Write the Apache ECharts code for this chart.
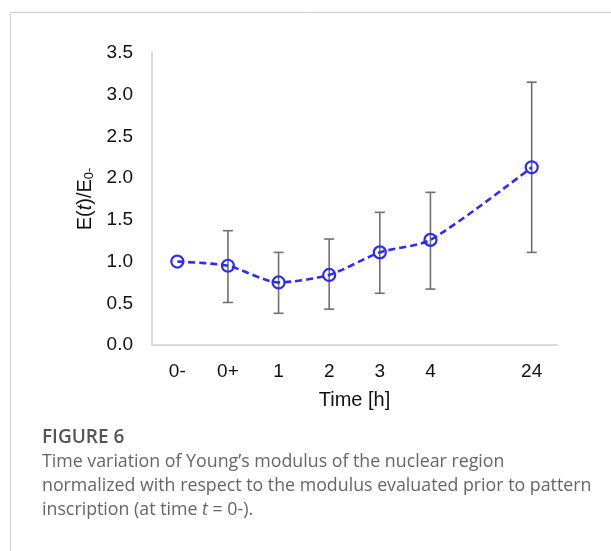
<!DOCTYPE html>
<html>
<head>
<meta charset="utf-8">
<script src="https://cdn.jsdelivr.net/npm/echarts@6/dist/echarts.min.js"></script>
<style>
  html, body { margin: 0; padding: 0; background: #fff; }
  #chart { width: 611px; height: 551px; }
</style>
</head>
<body>
<div id="chart"></div>
<script>
// categories (the empty one keeps the gap before 24 h)
let timeLabels = ['0-', '0+', '1', '2', '3', '4', '', '24'];
// mean E(t)/E0-
let meanValues = [1.0, 0.95, 0.75, 0.84, 1.11, 1.26, null, 2.13];
// error bar ends
let lowValues = [null, 0.51, 0.38, 0.43, 0.62, 0.67, null, 1.11];
let highValues = [null, 1.37, 1.11, 1.27, 1.59, 1.83, null, 3.15];
let yTicks = [0, 0.5, 1, 1.5, 2, 2.5, 3, 3.5];

let errData = [];
for (let i = 0; i < timeLabels.length; i++) {
  if (lowValues[i] != null) {
    errData.push([i, lowValues[i], highValues[i]]);
  }
}

let chart = echarts.init(document.getElementById('chart'));

let capFont = '17.8px "Open Sans"';

let option = {
  backgroundColor: '#fff',
  animation: false,
  grid: { left: 152, top: 53, right: 54, bottom: 206 },
  xAxis: {
    type: 'category',
    data: timeLabels,
    boundaryGap: true,
    axisLine: { lineStyle: { color: '#d9d9d9', width: 2 } },
    axisTick: { show: false },
    axisLabel: { color: '#111', fontSize: 19, fontFamily: 'Liberation Sans', margin: 17, interval: 0 },
    name: 'Time [h]',
    nameLocation: 'middle',
    nameGap: 45,
    nameTextStyle: { color: '#111', fontSize: 20, fontFamily: 'Liberation Sans' }
  },
  yAxis: {
    type: 'value',
    min: yTicks[0],
    max: yTicks[yTicks.length - 1],
    interval: 0.5,
    splitLine: { show: false },
    axisLine: { show: true, lineStyle: { color: '#d9d9d9', width: 2 } },
    axisTick: { show: false },
    axisLabel: {
      color: '#111', fontSize: 19, fontFamily: 'Liberation Sans', margin: 19,
      formatter: function (v) { return v.toFixed(1); }
    },
    name: '{a|E(}{i|t}{a|)/E}{s|0-}',
    nameLocation: 'middle',
    nameRotate: 90,
    nameGap: 52,
    nameTextStyle: {
      rich: {
        a: { fontSize: 20, fontFamily: 'Liberation Sans', color: '#111', verticalAlign: 'bottom', lineHeight: 23 },
        i: { fontSize: 20, fontFamily: 'Liberation Sans', fontStyle: 'italic', color: '#111', verticalAlign: 'bottom', lineHeight: 23 },
        s: { fontSize: 13, fontFamily: 'Liberation Sans', color: '#111', verticalAlign: 'bottom', lineHeight: 13 }
      }
    }
  },
  series: [
    {
      type: 'custom',
      z: 1,
      data: errData,
      renderItem: function (params, api) {
        let x = api.coord([api.value(0), api.value(1)])[0];
        let yLow = api.coord([api.value(0), api.value(1)])[1];
        let yHigh = api.coord([api.value(0), api.value(2)])[1];
        let st = { stroke: '#707070', lineWidth: 1.6 };
        return {
          type: 'group',
          children: [
            { type: 'line', shape: { x1: x, y1: yLow, x2: x, y2: yHigh }, style: st },
            { type: 'line', shape: { x1: x - 5, y1: yLow, x2: x + 5, y2: yLow }, style: st },
            { type: 'line', shape: { x1: x - 5, y1: yHigh, x2: x + 5, y2: yHigh }, style: st }
          ]
        };
      }
    },
    {
      type: 'line',
      z: 3,
      data: meanValues,
      connectNulls: true,
      smooth: 0.25,
      symbol: 'circle',
      symbolSize: 12,
      itemStyle: { color: 'rgba(255,255,255,0)', borderColor: '#2b2bff', borderWidth: 2.2 },
      lineStyle: { color: '#2b2bff', width: 2.6, type: [7, 4] }
    }
  ],
  graphic: [
    { type: 'line', shape: { x1: 10.5, y1: 12.5, x2: 611, y2: 12.5 }, style: { stroke: '#cfcfcf', lineWidth: 1 } },
    { type: 'line', shape: { x1: 10.5, y1: 12.5, x2: 10.5, y2: 551 }, style: { stroke: '#cfcfcf', lineWidth: 1 } },
    { type: 'text', left: 42, top: 428, style: { text: 'FIGURE 6', fill: '#555', font: '600 19px "Open Sans"' } },
    { type: 'text', left: 42, top: 453, style: { text: 'Time variation of Young\u2019s modulus of the nuclear region', fill: '#666', font: capFont } },
    { type: 'text', left: 42, top: 477, style: { text: 'normalized with respect to the modulus evaluated prior to pattern', fill: '#666', font: capFont } },
    {
      type: 'text', left: 42, top: 501,
      style: {
        text: '{n|inscription (at time }{i|t}{n| = 0-).}',
        rich: {
          n: { fill: '#666', font: capFont },
          i: { fill: '#666', font: 'italic ' + capFont }
        }
      }
    }
  ]
};

chart.setOption(option);
</script>
</body>
</html>
